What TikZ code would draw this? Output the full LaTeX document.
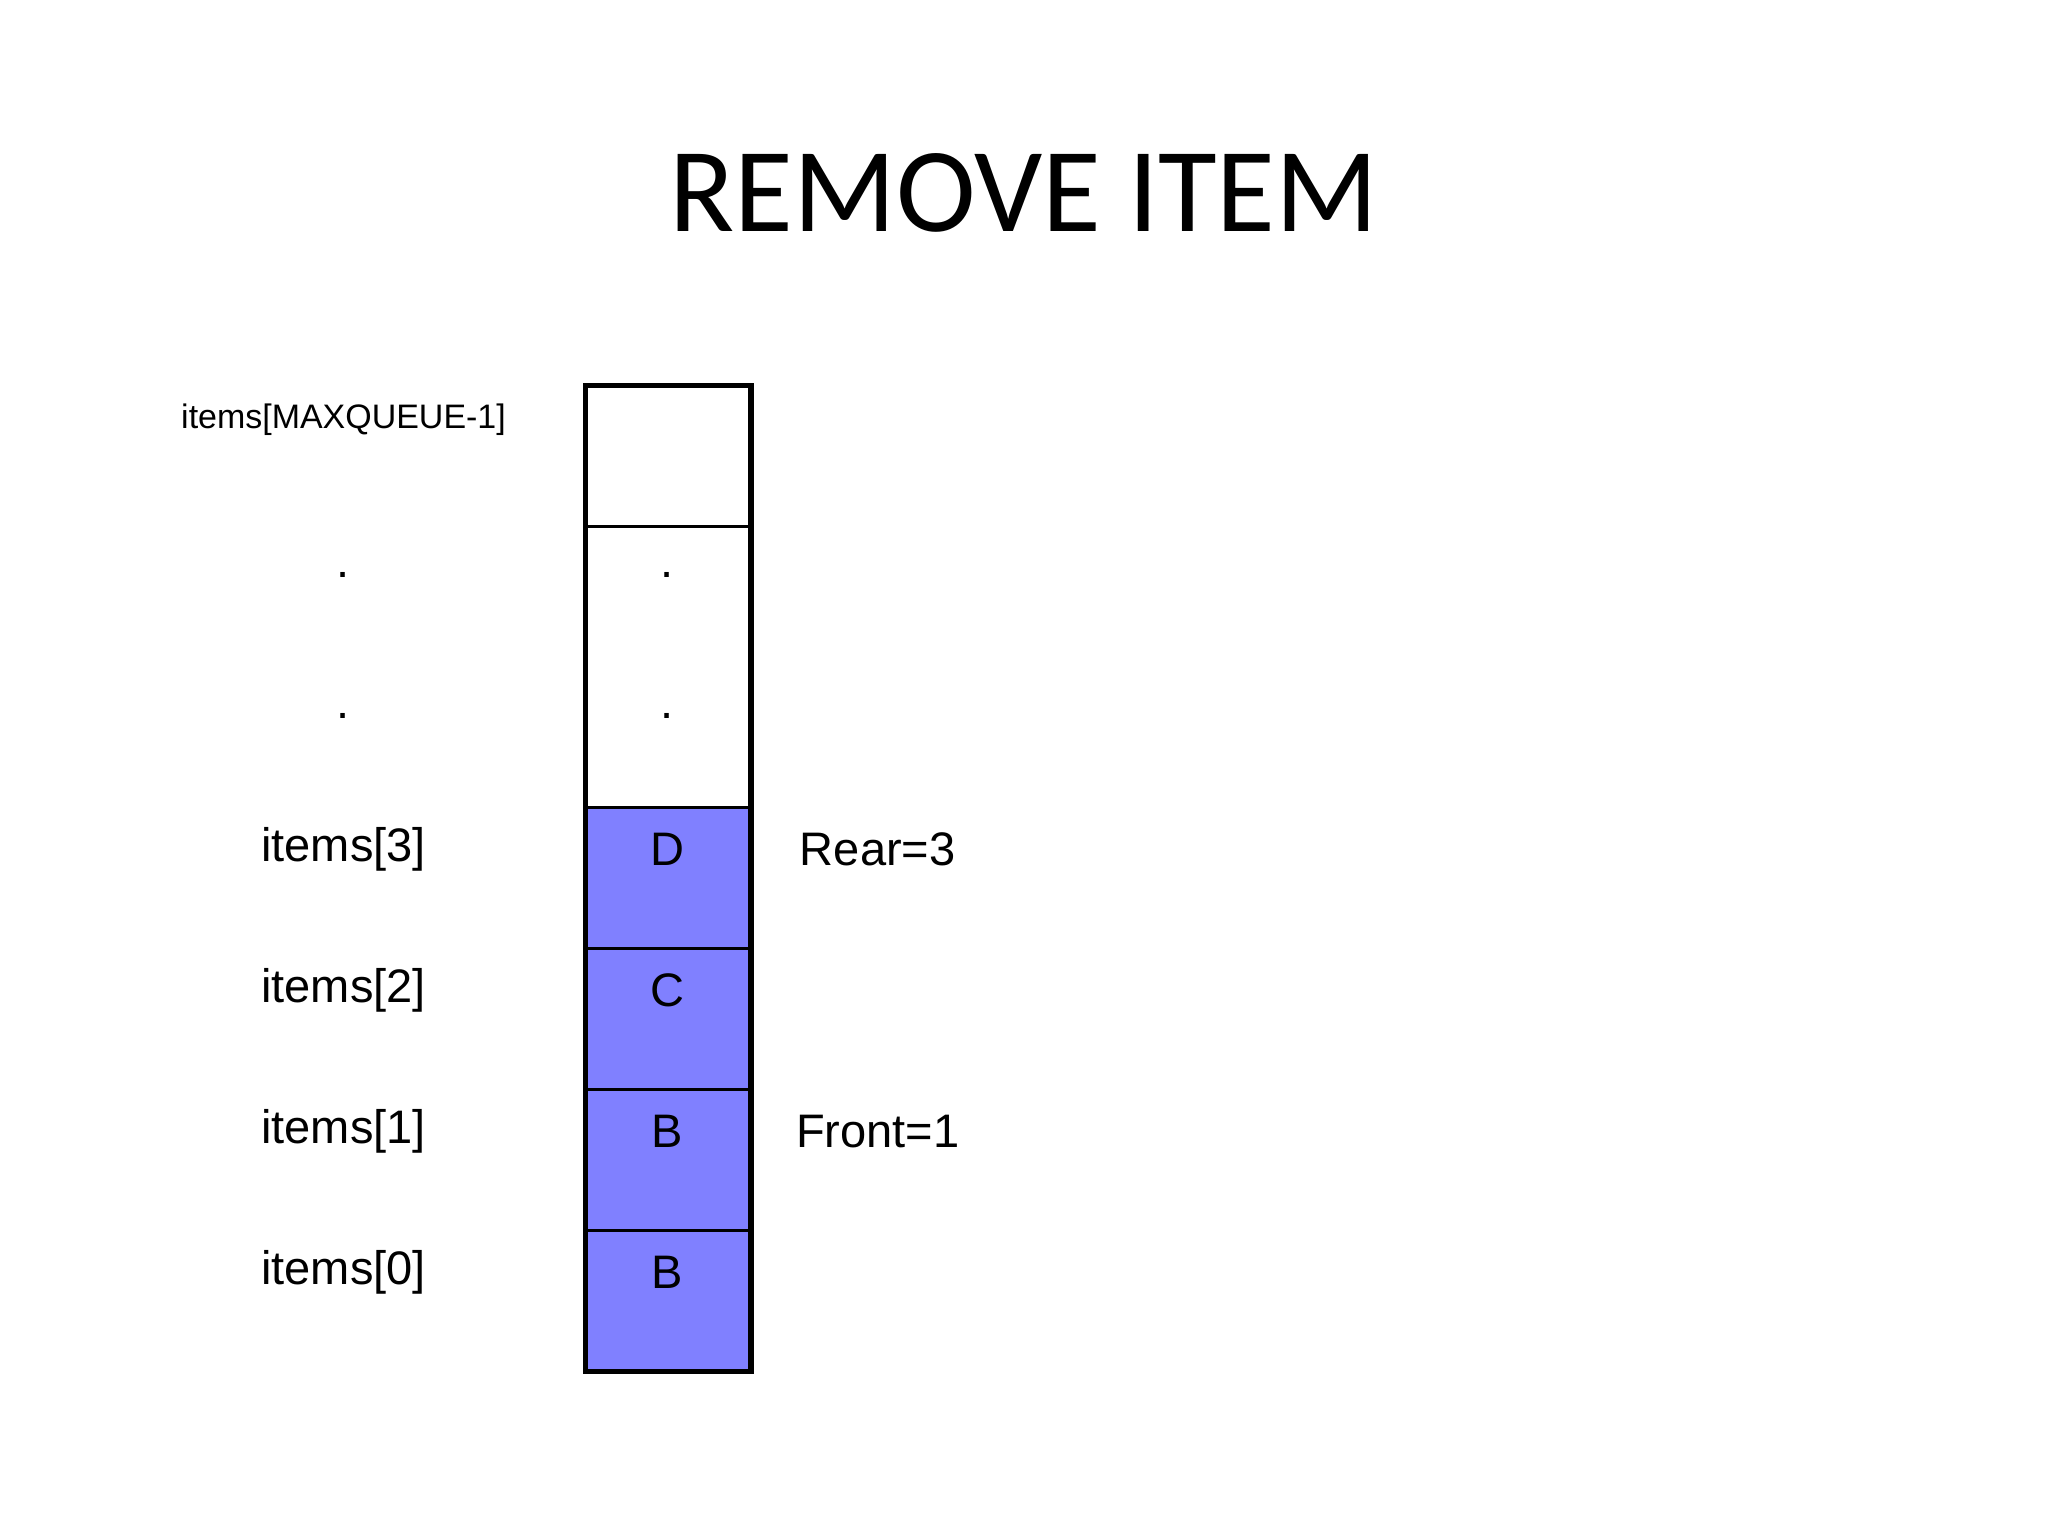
\documentclass[tikz,border=0pt]{standalone}
\usepackage{fontspec}
\setmainfont{Liberation Sans}
\newfontfamily\titlefont{Carlito}
\begin{document}
\begin{tikzpicture}[x=1pt,y=-1pt,
  lbl/.style={font=\fontsize{36}{40}\selectfont, inner sep=0pt},
  cellfill/.style={fill=blue!50!white},
  thin/.style={line width=2pt},
  thick/.style={line width=4pt}]
\useasboundingbox (0,0) rectangle (1568,1176);
\node[font=\titlefont\fontsize{92}{100}\selectfont, inner sep=0pt] (title) at (784,148) {REMOVE ITEM};
% cells
\fill[cellfill] (448,618) rectangle (575,1050);
\foreach \y in {403,618,726,834,942} \draw[thin] (448,\y) -- (575,\y);
\draw[thick] (448,295) rectangle (575,1050);
% cell contents
\node[lbl] (d1) at (511,440) {.};
\node[lbl] (d2) at (511,548) {.};
\node[lbl] (cD) at (511,650) {D};
\node[lbl] (cC) at (511,758) {C};
\node[lbl] (cB1) at (511,866) {B};
\node[lbl] (cB0) at (511,974) {B};
% left labels
\node[font=\fontsize{26}{30}\selectfont, inner sep=0pt] (lmax) at (263,321) {items[MAXQUEUE-1]};
\node[lbl] (l1) at (263,440) {.};
\node[lbl] (l2) at (263,548) {.};
\node[lbl] (l3) at (263,650) {items[3]};
\node[lbl] (l4) at (263,758) {items[2]};
\node[lbl] (l5) at (263,866) {items[1]};
\node[lbl] (l6) at (263,974) {items[0]};
% right labels
\node[lbl] (rear) at (672,650) {Rear=3};
\node[lbl] (front) at (672,866) {Front=1};
\end{tikzpicture}
\end{document}
